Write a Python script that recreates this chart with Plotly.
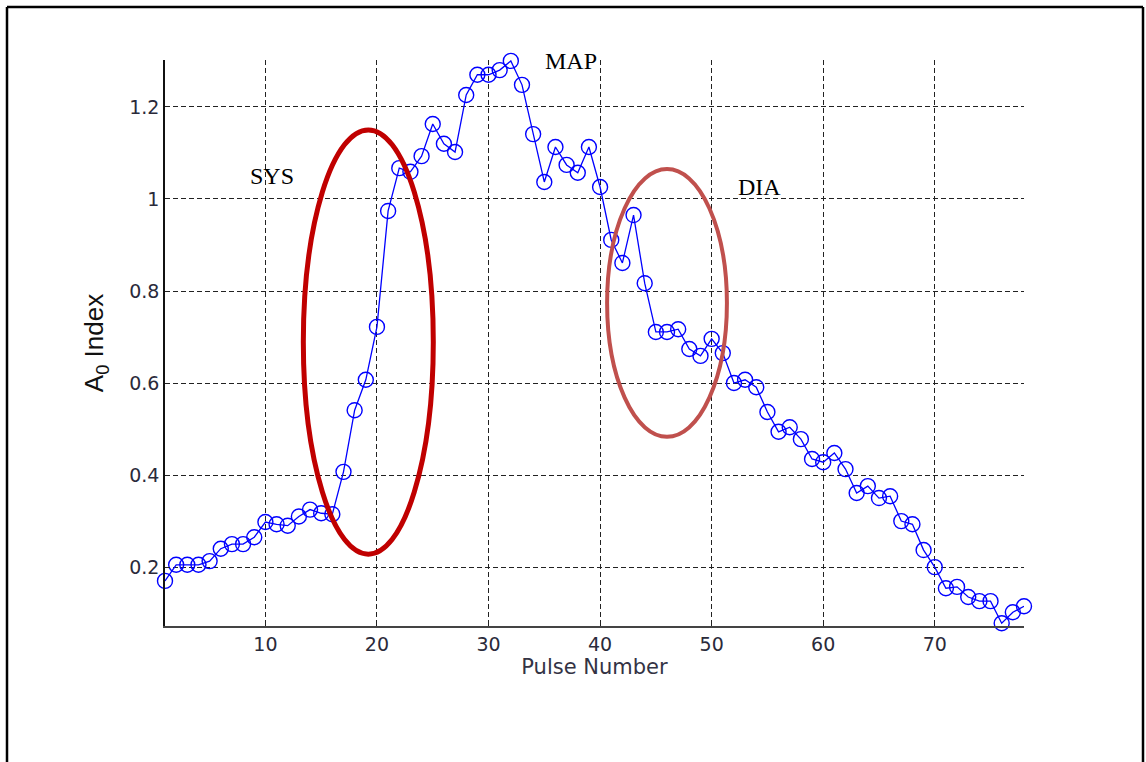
import plotly.graph_objects as go

pulse = list(range(1, 79))
a0_index = [
    0.17, 0.205, 0.205, 0.205, 0.213, 0.24, 0.25, 0.25, 0.265, 0.298,
    0.293, 0.29, 0.31, 0.325, 0.317, 0.315, 0.407, 0.541, 0.607, 0.722,
    0.974, 1.067, 1.059, 1.093, 1.163, 1.12, 1.102, 1.226, 1.27, 1.27,
    1.28, 1.30, 1.248, 1.141, 1.037, 1.113, 1.074, 1.057, 1.113, 1.026,
    0.911, 0.861, 0.965, 0.817, 0.711, 0.711, 0.717, 0.674, 0.659, 0.696,
    0.665, 0.60, 0.607, 0.591, 0.537, 0.494, 0.504, 0.478, 0.435, 0.428,
    0.448, 0.413, 0.361, 0.376, 0.35, 0.354, 0.30, 0.293, 0.237, 0.20,
    0.154, 0.157, 0.135, 0.126, 0.126, 0.078, 0.102, 0.115,
]
x_ticks = [10, 20, 30, 40, 50, 60, 70]
y_ticks = [0.2, 0.4, 0.6, 0.8, 1.0, 1.2]
y_tick_labels = ["0.2", "0.4", "0.6", "0.8", "1", "1.2"]

W, H = 1146, 762
L, R, T, B = 165, 122, 60, 136
pw, ph = W - L - R, H - T - B


def px(x):
    return (x - L) / pw


def py(y):
    return (H - B - y) / ph


fig = go.Figure()
fig.add_trace(go.Scatter(
    x=pulse, y=a0_index, mode="lines+markers", cliponaxis=False,
    line=dict(color="#0000FF", width=1.3),
    marker=dict(symbol="circle-open", size=15, color="#0000FF",
                line=dict(width=1.4, color="#0000FF")),
    showlegend=False,
))

grid = dict(showgrid=True, gridcolor="#222222", gridwidth=1, griddash="5px,3px")
tickfont = dict(size=19, color="#2a2a3a", family="DejaVu Sans, Arial")

fig.update_layout(
    width=W, height=H,
    margin=dict(l=L, r=R, t=T, b=B),
    paper_bgcolor="white", plot_bgcolor="white",
    font=dict(family="DejaVu Sans, Arial", color="#2a2a3a"),
    xaxis=dict(range=[1, 78], tickvals=x_ticks, showline=True,
               linecolor="#444444", linewidth=2, ticks="inside", ticklen=5,
               tickcolor="#222222", tickfont=tickfont,
               zeroline=False,
               title=dict(text="Pulse Number",
                          font=dict(size=21, color="#333344", family="DejaVu Sans, Arial"),
                          standoff=6),
               **grid),
    yaxis=dict(range=[0.072, 1.302], tickvals=y_ticks, ticktext=y_tick_labels,
               showline=True, linecolor="#111111", linewidth=1.5, ticks="inside",
               ticklen=5, tickcolor="#222222",
               tickfont=tickfont, zeroline=False,
               title=dict(text="A<sub>0</sub> Index",
                          font=dict(size=26, color="#111111",
                                    family="Liberation Sans, Arial"),
                          standoff=18),
               **grid),
)

serif = dict(family="Liberation Serif, Times New Roman", size=24, color="black")
for txt, xv, yv in [("SYS", 10.55, 1.05), ("MAP", 37.4, 1.30), ("DIA", 54.3, 1.026)]:
    fig.add_annotation(x=xv, y=yv, text=txt, showarrow=False, font=serif,
                       xanchor="center", yanchor="middle")

# ellipses highlighting regions
fig.add_shape(type="circle", xref="x", yref="y", x0=13.4, x1=25.05, y0=0.228, y1=1.15,
              line=dict(color="#C00000", width=5))
fig.add_shape(type="circle", xref="x", yref="y", x0=40.63, x1=51.37, y0=0.483, y1=1.065,
              line=dict(color="#C0504D", width=4))

# outer frame
fx0, fx1, fy0, fy1 = px(7), px(1143), py(7), py(770)
for x0, y0, x1, y1 in [(fx0, fy0, fx1, fy0), (fx0, fy0, fx0, fy1), (fx1, fy0, fx1, fy1)]:
    fig.add_shape(type="line", xref="paper", yref="paper", x0=x0, y0=y0, x1=x1, y1=y1,
                  line=dict(color="black", width=2.5))

fig.write_html("out.html")
